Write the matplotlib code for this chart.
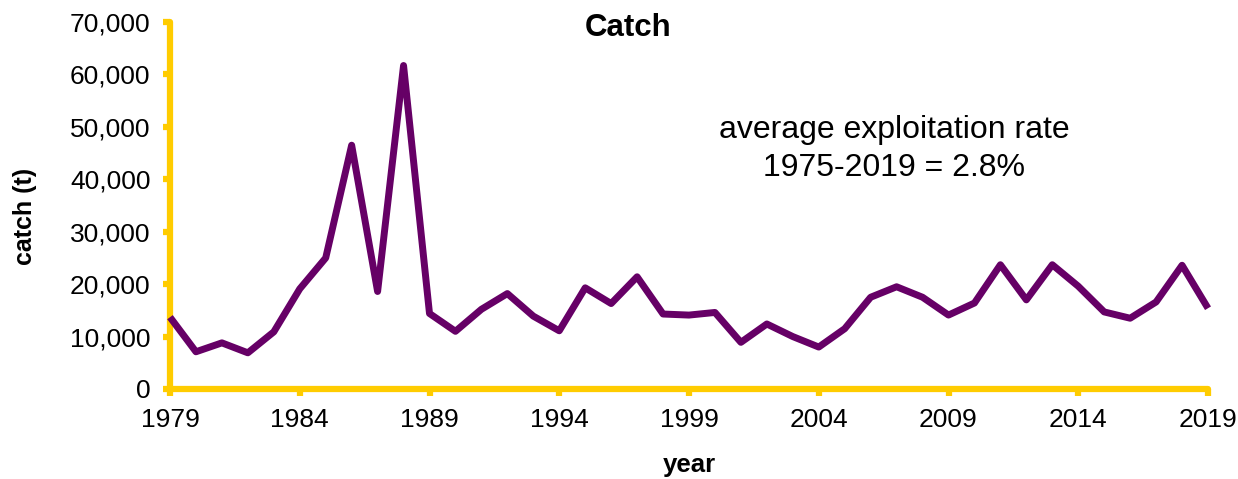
import matplotlib
matplotlib.use('Agg')
import matplotlib.pyplot as plt
from matplotlib.ticker import FuncFormatter

plt.rcParams.update({
    'font.family': ['Liberation Sans', 'DejaVu Sans'],
    'font.size': 19,
})

# ── Colours ───────────────────────────────────────────────────────────
LINE_CLR = '#660066'   # purple catch line
AXIS_CLR = '#FFCC00'   # gold axes
TEXT_CLR = '#000000'

# ── Data ──────────────────────────────────────────────────────────────
years = list(range(1979, 2020))
catch = [
    13700, 7100, 8800, 6900, 10900, 19100, 25000, 46500, 18600, 61700,
    14400, 11000, 15200, 18200, 13900, 11100, 19300, 16300, 21400, 14300,
    14100, 14600, 8900, 12400, 10000, 8000, 11500, 17500, 19500, 17500,
    14100, 16400, 23700, 17000, 23700, 19600, 14700, 13500, 16600, 23600,
    15400,
]
xticks = list(range(1979, 2020, 5))
yticks = list(range(0, 70001, 10000))

W, H = 1238, 479
fig = plt.figure(figsize=(W / 100, H / 100), dpi=100)
ax = fig.add_axes([170 / W, 1 - 389 / H, (1208 - 170) / W, (389 - 22) / H])

ax.plot(years, catch, color=LINE_CLR, lw=5, solid_joinstyle='round',
        solid_capstyle='butt', clip_on=False, zorder=3)

ax.set_xlim(1979, 2019)
ax.set_ylim(0, 70000)
ax.set_xticks(xticks)
ax.set_yticks(yticks)
ax.yaxis.set_major_formatter(FuncFormatter(lambda v, p: f'{int(v):,}'))

# Axes styling: gold spines with round caps, outward ticks
for side in ('top', 'right'):
    ax.spines[side].set_visible(False)
for side in ('left', 'bottom'):
    ax.spines[side].set_color(AXIS_CLR)
    ax.spines[side].set_linewidth(4.5)
    ax.spines[side].set_capstyle('round')
ax.tick_params(axis='both', colors=AXIS_CLR, width=4.5, length=5,
               direction='out', labelcolor=TEXT_CLR, labelsize=19, pad=9)

ax.set_xlabel('year', fontsize=18.5, fontweight='bold')
ax.xaxis.set_label_coords(0.5, (389 - 472) / 367)
ax.xaxis.label.set_va('baseline')
ax.set_ylabel('catch (t)', fontsize=18, fontweight='bold')
ax.yaxis.set_label_coords((25 - 170) / 1038, (389 - 216) / 367)
ax.yaxis.label.set_va('center')

# Title and annotation
fig.text(628 / W, 1 - 36 / H, 'Catch', ha='center', va='baseline',
         fontsize=22.5, fontweight='bold')
fig.text(894 / W, 1 - 138 / H, 'average exploitation rate', ha='center',
         va='baseline', fontsize=23)
fig.text(894 / W, 1 - 176 / H, '1975-2019 = 2.8%', ha='center',
         va='baseline', fontsize=23)

fig.savefig('out.png', dpi=100, facecolor='white')
plt.close()
